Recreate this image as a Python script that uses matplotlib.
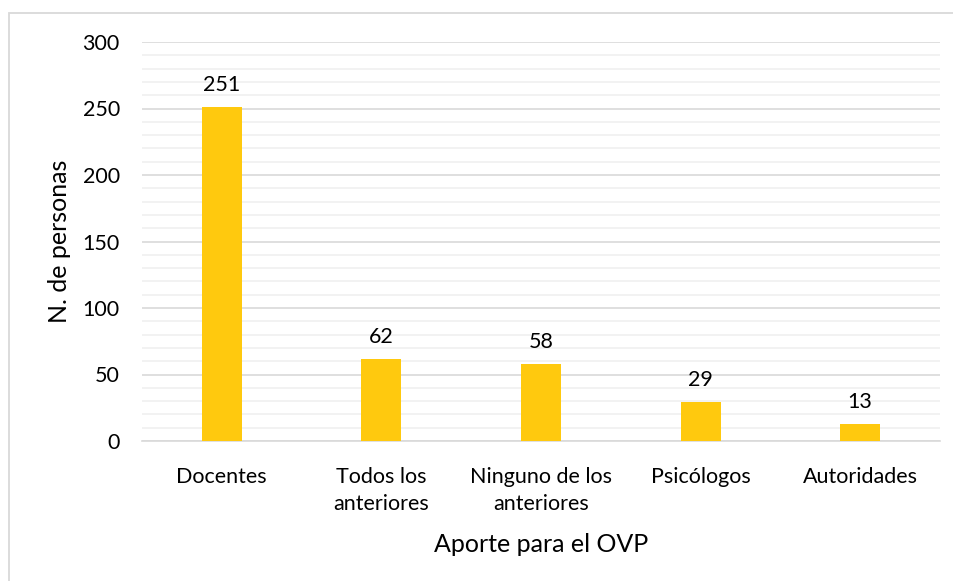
import matplotlib.pyplot as plt
from matplotlib.patches import Rectangle
from matplotlib.ticker import MultipleLocator

categories = ["Docentes", "Todos los\nanteriores", "Ninguno de los\nanteriores", "Psicólogos", "Autoridades"]
personas = [251, 62, 58, 29, 13]

plt.rcParams['font.family'] = ['Lato', 'DejaVu Sans']

W, H = 954, 581
fig = plt.figure(figsize=(W / 100, H / 100), dpi=100)
ax = fig.add_axes([142 / W, 1 - 441 / H, (940 - 142) / W, (441 - 42) / H])

# marco del gráfico
fig.patches.append(Rectangle((9 / W, -0.05), 1.1, 1 - 13 / H + 0.05, transform=fig.transFigure,
                             fill=False, edgecolor='#d9d9d9', linewidth=1.3))

x = range(len(categories))
bars = ax.bar(x, personas, width=0.25, color='#ffc90e', zorder=3)
for b, v in zip(bars, personas):
    ax.text(b.get_x() + b.get_width() / 2, v + 9, str(v), ha='center', va='bottom', fontsize=15.5)

ax.set_xlim(-0.5, len(categories) - 0.5)
ax.set_ylim(0, 300)
ax.yaxis.set_major_locator(MultipleLocator(50))
ax.yaxis.set_minor_locator(MultipleLocator(10))
ax.grid(axis='y', which='major', color='#d9d9d9', linewidth=1.2, zorder=0)
ax.grid(axis='y', which='minor', color='#f0f0f0', linewidth=1.2, zorder=0)
for s in ['top', 'right', 'left']:
    ax.spines[s].set_visible(False)
ax.spines['bottom'].set_color('#d9d9d9')
ax.spines['bottom'].set_linewidth(1.2)
ax.tick_params(axis='both', which='both', length=0, labelsize=15.5)
ax.tick_params(axis='y', pad=16)
ax.tick_params(axis='x', pad=19)
ax.set_xticks(list(x))
ax.set_xticklabels(categories, linespacing=1.4)
ax.set_ylabel("N. de personas", fontsize=18, labelpad=8)
ax.set_xlabel("Aporte para el OVP", fontsize=18, labelpad=14)

fig.savefig("out.png", dpi=100, facecolor='white')
